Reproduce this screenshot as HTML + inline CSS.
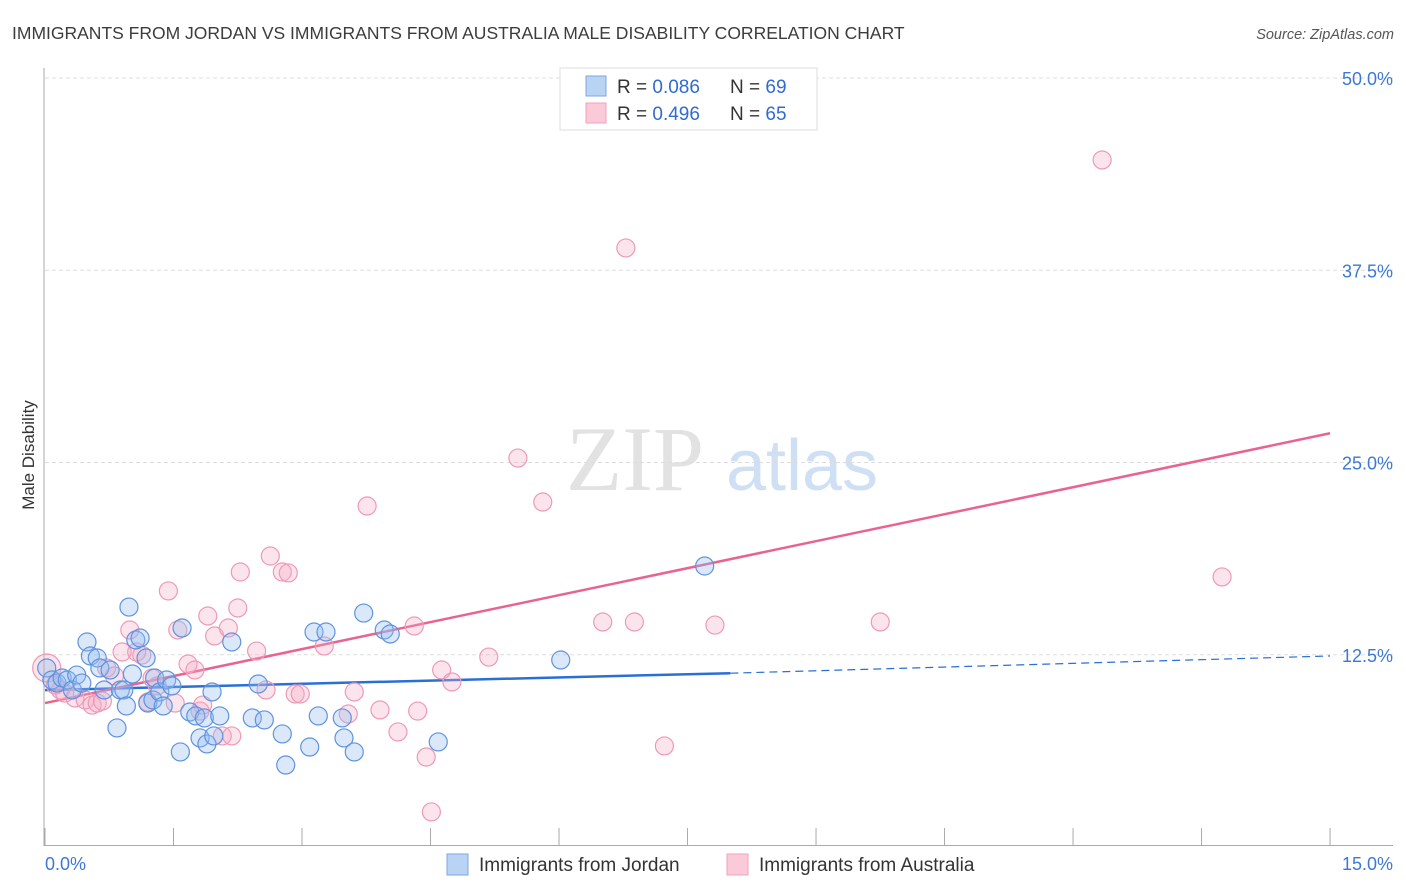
<!DOCTYPE html>
<html><head><meta charset="utf-8"><style>
body{margin:0;background:#fff;}
svg{display:block;font-family:"Liberation Sans",sans-serif;}
</style></head><body>
<svg id="chart" width="1406" height="892">
<text x="12" y="39" font-size="17.5" fill="#3c3c3c">IMMIGRANTS FROM JORDAN VS IMMIGRANTS FROM AUSTRALIA MALE DISABILITY CORRELATION CHART</text>
<text x="1394" y="39" font-size="14.5" fill="#555" font-style="italic" text-anchor="end">Source: ZipAtlas.com</text>
<text transform="translate(34,455) rotate(-90)" font-size="17" fill="#333" text-anchor="middle">Male Disability</text>
<g>
<text x="635" y="490" font-size="92" font-family="Liberation Serif,serif" fill="#e2e2e2" text-anchor="middle">ZIP</text>
<text x="802" y="490" font-size="72" fill="#cfe0f5" text-anchor="middle">atlas</text>
</g>
<g id="grid"></g><g id="axes"></g><g id="lines"></g><g id="pts"></g>
<g>
<rect x="560" y="68" width="257" height="62" fill="#fff" stroke="#ddd"/>
<rect x="586" y="76" width="20" height="20" fill="#b9d3f5" stroke="#7fa6e0"/>
<rect x="586" y="103" width="20" height="20" fill="#fbcad8" stroke="#efa3bb"/>
<text x="617" y="93" font-size="19" fill="#333">R = <tspan fill="#2f6bd0">0.086</tspan><tspan x="730">N = </tspan><tspan fill="#2f6bd0">69</tspan></text>
<text x="617" y="120" font-size="19" fill="#333">R = <tspan fill="#2f6bd0">0.496</tspan><tspan x="730">N = </tspan><tspan fill="#2f6bd0">65</tspan></text>
</g>
<g>
<rect x="447" y="854" width="21" height="21" fill="#b9d3f5" stroke="#7fa6e0"/>
<text x="479" y="871" font-size="19" fill="#333">Immigrants from Jordan</text>
<rect x="727" y="854" width="21" height="21" fill="#fbcad8" stroke="#efa3bb"/>
<text x="759" y="871" font-size="19" fill="#333">Immigrants from Australia</text>
</g>
</svg>
<script>
const yTicks=[12.5,25,37.5,50];
const yTickLabels=["12.5%","25.0%","37.5%","50.0%"];
const xTickCount=10;
const jordanX=[.02,.08,.14,.20,.26,.32,.37,.43,.49,.53,.61,.64,.69,.76,.84,.88,.92,.95,.98,1.02,1.06,1.11,1.18,1.20,1.26,1.28,1.34,1.38,1.42,1.48,1.58,1.60,1.69,1.76,1.81,1.86,1.89,1.95,1.97,2.04,2.18,2.42,2.49,2.56,2.77,2.81,3.09,3.14,3.19,3.28,3.47,3.49,3.61,3.72,3.96,4.03,4.59,6.02,7.70];
const jordanY=[11.64,10.86,10.66,10.99,10.86,10.21,11.18,10.66,13.33,12.42,12.29,11.64,10.21,11.51,7.74,10.21,10.21,9.17,15.6,11.25,13.46,13.59,12.29,9.36,9.56,10.99,10.08,9.17,10.86,10.47,6.18,14.24,8.78,8.52,7.09,8.39,6.70,10.08,7.22,8.52,13.33,8.39,10.6,8.26,7.35,5.33,6.50,13.98,8.52,13.98,8.39,7.09,6.18,15.21,14.11,13.85,6.83,12.16,18.27];
const ausX=[.02,.12,.18,.23,.35,.47,.55,.61,.67,.72,.81,.90,.99,1.07,1.13,1.20,1.25,1.31,1.44,1.52,1.55,1.67,1.75,1.81,1.84,1.90,1.98,2.07,2.14,2.18,2.28,2.25,2.47,2.58,2.63,2.77,2.84,2.92,2.98,3.26,3.54,3.61,3.76,3.91,4.12,4.31,4.35,4.45,4.51,4.63,4.75,5.18,5.52,5.81,6.51,6.78,6.88,7.23,7.82,9.75,12.34,13.74];
const ausY=[11.64,10.53,10.21,10.01,9.69,9.56,9.23,9.36,9.49,11.64,11.12,12.68,14.11,12.68,12.48,9.43,10.99,10.47,16.65,9.36,14.11,11.90,11.51,8.84,9.23,15.02,13.72,7.22,14.24,7.22,17.88,15.54,12.74,10.21,18.92,17.88,17.82,9.95,9.95,13.07,8.65,10.08,22.17,8.91,7.48,14.37,8.84,5.85,2.28,11.51,10.73,12.35,25.29,22.43,14.63,38.95,14.63,6.57,14.43,14.63,44.67,17.56];
const jordanTrend=[10.2,11.3,12.42]; // at x=0, 8.0, 15
const ausTrend=[9.36,26.9];
const NS="http://www.w3.org/2000/svg";
const X=v=>45+v*85.67, Y=v=>847-v*15.38;
function mk(t,a,p){const e=document.createElementNS(NS,t);for(const k in a)e.setAttribute(k,a[k]);document.getElementById(p).appendChild(e);return e;}
yTicks.forEach((t,i)=>{
 const g=mk('line',{x1:45,x2:1393,y1:Y(t),y2:Y(t),stroke:'#ddd','stroke-dasharray':'4,3'},'grid');
 
 
 const l=mk('text',{x:1393,y:Y(t)+7,'font-size':18,fill:'#3d78d6','text-anchor':'end'},'grid');
 l.textContent=yTickLabels[i];
 
 
});
const ya=mk('line',{x1:44,x2:44,y1:68,y2:846,stroke:'#aaa'},'axes');


const xa=mk('line',{x1:44,x2:1393,y1:845.5,y2:845.5,stroke:'#aaa'},'axes');


for(let i=0;i<=xTickCount;i++){const x=X(i*15/xTickCount);
 const t=mk('line',{x1:x,x2:x,y1:828,y2:846,stroke:'#aaa'},'axes');
 
 }
const x0=mk('text',{x:45,y:870,'font-size':18,fill:'#3d78d6'},'axes');x0.textContent='0.0%';


const x1=mk('text',{x:1393,y:870,'font-size':18,fill:'#3d78d6','text-anchor':'end'},'axes');x1.textContent='15.0%';


ausX.forEach((v,i)=>{const c=mk('circle',{cx:X(v),cy:Y(ausY[i]),r:i==0?14:9,fill:'rgba(246,170,196,0.32)',stroke:'#ee9ab5','stroke-width':1.2},'pts');
 
 });
jordanX.forEach((v,i)=>{const c=mk('circle',{cx:X(v),cy:Y(jordanY[i]),r:9,fill:'rgba(150,190,240,0.35)',stroke:'#5f93df','stroke-width':1.2},'pts');
 
 });
const b1=mk('line',{x1:X(0),y1:Y(jordanTrend[0]),x2:X(8),y2:Y(jordanTrend[1]),stroke:'#2a6fd6','stroke-width':2.5},'lines');


const b2=mk('line',{x1:X(8),y1:Y(jordanTrend[1]),x2:X(15),y2:Y(jordanTrend[2]),stroke:'#2a6fd6','stroke-width':1.2,'stroke-dasharray':'8,5'},'lines');


const p1=mk('line',{x1:X(0),y1:Y(ausTrend[0]),x2:X(15),y2:Y(ausTrend[1]),stroke:'#e8648f','stroke-width':2.5},'lines');


</script>
</body></html>
